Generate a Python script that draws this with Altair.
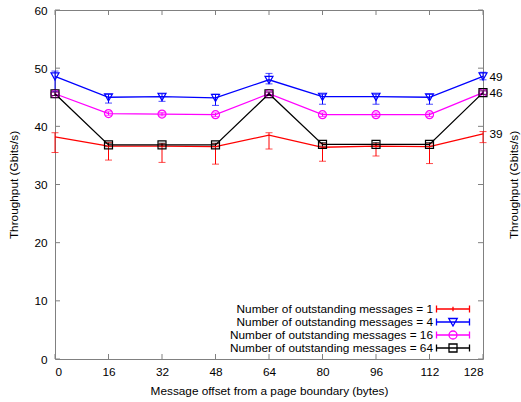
import altair as alt
import pandas as pd

offsets = [0, 16, 32, 48, 64, 80, 96, 112, 128]
series_names = [
    "Number of outstanding messages = 1",
    "Number of outstanding messages = 4",
    "Number of outstanding messages = 16",
    "Number of outstanding messages = 64",
]
series_colors = ["#ff0000", "#0000ff", "#ff00ff", "#000000"]

mean_1 = [38.2, 36.6, 36.6, 36.5, 38.5, 36.4, 36.6, 36.5, 38.7]
low_1 = [35.5, 34.2, 33.8, 33.5, 36.1, 34.0, 34.9, 33.6, 37.2]
high_1 = [38.9, 37.2, 37.0, 37.0, 38.9, 37.0, 37.0, 37.0, 39.1]

mean_4 = [48.6, 45.0, 45.1, 44.9, 48.0, 45.1, 45.1, 45.0, 48.6]
low_4 = [46.0, 44.0, 44.3, 43.6, 47.3, 43.8, 43.8, 43.8, 48.0]
high_4 = [49.5, 45.5, 45.6, 45.5, 49.1, 45.5, 45.5, 45.5, 49.3]

mean_16 = [45.6, 42.2, 42.1, 42.0, 45.6, 42.0, 42.0, 42.0, 45.8]
low_16 = [45.3, 41.9, 41.8, 41.7, 45.3, 41.7, 41.7, 41.7, 45.5]
high_16 = [45.9, 42.5, 42.4, 42.3, 45.9, 42.3, 42.3, 42.3, 46.1]

mean_64 = [45.6, 36.8, 36.8, 36.8, 45.6, 36.9, 36.9, 36.9, 45.8]
low_64 = [45.3, 36.5, 36.5, 36.5, 45.3, 36.6, 36.6, 36.6, 45.5]
high_64 = [45.9, 37.1, 37.1, 37.1, 45.9, 37.2, 37.2, 37.2, 46.1]

y_ticks = [0, 10, 20, 30, 40, 50, 60]
x_ticks = [0, 16, 32, 48, 64, 80, 96, 112, 128]
right_labels = [38.7, 45.8, 48.6]

rows = []
for name, m, lo, hi in zip(series_names,
                           [mean_1, mean_4, mean_16, mean_64],
                           [low_1, low_4, low_16, low_64],
                           [high_1, high_4, high_16, high_64]):
    for x, a, b, c in zip(offsets, m, lo, hi):
        rows.append({"offset": x, "series": name, "thr": a, "low": b, "high": c})
df = pd.DataFrame(rows)

W, H = 428, 349
FONT = "Liberation Sans"
FS = 11.8
GRAY = "#808080"

xs = alt.Scale(domain=[0, 128], nice=False, zero=False)
ys = alt.Scale(domain=[0, 60], nice=False)
col = alt.Color("series:N", scale=alt.Scale(domain=series_names, range=series_colors), legend=None)

X = alt.X("offset:Q", scale=xs, axis=None)

base = alt.Chart(df)
err = base.mark_rule(strokeWidth=1).encode(
    x=X, y=alt.Y("low:Q", scale=ys, axis=None), y2="high:Q", color=col)
cap_lo = base.mark_tick(orient="horizontal", size=7, thickness=1).encode(
    x=X, y=alt.Y("low:Q", scale=ys, axis=None), color=col)
cap_hi = base.mark_tick(orient="horizontal", size=7, thickness=1).encode(
    x=X, y=alt.Y("high:Q", scale=ys, axis=None), color=col)
line = base.mark_line(strokeWidth=1.3).encode(
    x=X, y=alt.Y("thr:Q", scale=ys, axis=None), color=col, order="offset:Q")

tri = "M-1,-0.85L1,-0.85L0,0.95Z"
points = base.transform_filter(alt.datum.series != series_names[0]).mark_point(
    filled=False, size=64, strokeWidth=1.2, opacity=1).encode(
    x=X, y=alt.Y("thr:Q", scale=ys, axis=None), color=col,
    shape=alt.Shape("series:N", scale=alt.Scale(domain=series_names[1:], range=[tri, "circle", "square"]), legend=None))


def sym(extra, dx=5.2):
    def f(v):
        return f"{v:.2f}"
    p = (f"M{f(dx-3.3)},0H{f(dx+3.3)}M{f(dx-3.3)},-0.7V0.7M{f(dx+3.3)},-0.7V0.7")
    return p + extra(dx, f)


legend_paths = [
    sym(lambda d, f: f"M{f(d)},-0.45V0.45"),
    sym(lambda d, f: f"M{f(d-0.85)},-0.7L{f(d+0.85)},-0.7L{f(d)},0.8Z"),
    sym(lambda d, f: f"M{f(d-0.8)},0A0.8,0.8 0 1,0 {f(d+0.8)},0A0.8,0.8 0 1,0 {f(d-0.8)},0Z"),
    sym(lambda d, f: f"M{f(d-0.8)},-0.8H{f(d+0.8)}V0.8H{f(d-0.8)}Z"),
]
leg = alt.Legend(title=None, orient="none", legendX=366, legendY=293, padding=0,
                 symbolSize=100, symbolStrokeWidth=1.3, labelAlign="right", labelOffset=0,
                 labelFont=FONT, labelFontSize=FS, labelColor="#000000", labelLimit=400,
                 rowPadding=-1.3)
legend_layer = base.mark_point(filled=False, opacity=0).encode(
    x=X, y=alt.Y("thr:Q", scale=ys, axis=None),
    color=alt.Color("series:N", scale=alt.Scale(domain=series_names, range=series_colors), legend=leg),
    shape=alt.Shape("series:N", scale=alt.Scale(domain=series_names, range=legend_paths), legend=leg))

ydf = pd.DataFrame({"v": y_ticks})
xdf = pd.DataFrame({"v": x_ticks})

left_ticks = alt.Chart(ydf).mark_rule(color=GRAY, strokeWidth=1).encode(
    x=alt.value(0), x2=alt.value(5),
    y=alt.Y("v:Q", scale=ys, axis=alt.Axis(orient="left", values=y_ticks, ticks=False, domain=False,
                                          labelPadding=8, title="Throughput (Gbits/s)", titlePadding=14)))
right_ticks = alt.Chart(ydf).mark_rule(color=GRAY, strokeWidth=1).encode(
    x=alt.value(W - 5), x2=alt.value(W),
    y=alt.Y("v:Q", scale=ys, axis=alt.Axis(orient="right", values=right_labels, format=".0f", ticks=False,
                                          domain=False, labelPadding=6, title="Throughput (Gbits/s)",
                                          titleAngle=270, titlePadding=17)))
bottom_ticks = alt.Chart(xdf).mark_rule(color=GRAY, strokeWidth=1).encode(
    y=alt.value(H - 5), y2=alt.value(H),
    x=alt.X("v:Q", scale=xs, axis=alt.Axis(orient="bottom", values=x_ticks, ticks=False, domain=False,
                                          labelPadding=7,
                                          title="Message offset from a page boundary (bytes)", titlePadding=8)))
top_ticks = alt.Chart(xdf).mark_rule(color=GRAY, strokeWidth=1).encode(
    y=alt.value(0), y2=alt.value(5), x=alt.X("v:Q", scale=xs, axis=None))

chart = alt.layer(
    left_ticks, right_ticks, bottom_ticks, top_ticks,
    err, cap_lo, cap_hi, line, points, legend_layer
).resolve_axis(y="independent", x="independent").resolve_scale(
    color="independent", shape="independent").properties(
    width=W, height=H, autosize=alt.AutoSizeParams(type="none"),
    padding={"left": 55, "top": 10, "right": 38, "bottom": 43}
).configure_view(stroke=GRAY, strokeWidth=1).configure_axis(
    grid=False, labelFont=FONT, labelFontSize=FS, labelColor="#000000",
    titleFont=FONT, titleFontSize=FS, titleFontWeight="normal", titleColor="#000000"
)

chart.save("out.html", embed_options={"renderer": "svg", "actions": False})
